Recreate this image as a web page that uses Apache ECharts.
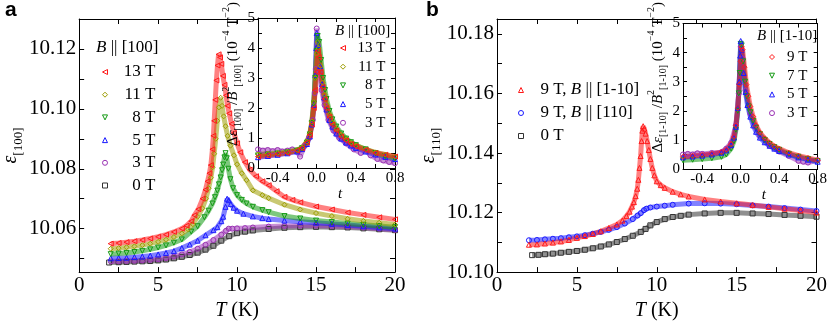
<!DOCTYPE html>
<html>
<head>
<meta charset="utf-8">
<script src="https://cdn.jsdelivr.net/npm/echarts@6/dist/echarts.min.js"></script>
<style>
  html, body { margin: 0; padding: 0; background: #fff; }
  #chart { width: 830px; height: 326px; }
</style>
</head>
<body>
<div id="chart"></div>
<script>
// ---- tick values / labels ----
const mainXTicks = [0, 2.5, 5, 7.5, 10, 12.5, 15, 17.5, 20]
const mainXLabels = [0, 5, 10, 15, 20]
const aYTicks = [10.05, 10.06, 10.07, 10.08, 10.09, 10.10, 10.11, 10.12, 10.13]
const aYLabels = [10.06, 10.08, 10.10, 10.12]
const bYTicks = [10.10, 10.11, 10.12, 10.13, 10.14, 10.15, 10.16, 10.17, 10.18]
const bYLabels = [10.10, 10.12, 10.14, 10.16, 10.18]
const insetXTicks = [-0.6, -0.4, -0.2, 0, 0.2, 0.4, 0.6, 0.8]
const insetXLabels = [-0.4, 0, 0.4, 0.8]
const insetYTicks = [0, 0.5, 1, 1.5, 2, 2.5, 3, 3.5, 4, 4.5, 5]
const insetYLabels = [0, 1, 2, 3, 4, 5]

// ---- panel a: eps[100] vs T ----
const a13T = [[2.0,10.0550],[2.5,10.0552],[3,10.0555],[3.5,10.0558],[4,10.0562],[4.5,10.0567],[5,10.0573],[5.5,10.0580],[6,10.0589],[6.5,10.0600],[6.8,10.0610],[7.1,10.0625],[7.3,10.0645],[7.55,10.0665],[7.82,10.0700],[8.0,10.0730],[8.13,10.0758],[8.25,10.0785],[8.34,10.0812],[8.44,10.0865],[8.5,10.0910],[8.55,10.0960],[8.62,10.1030],[8.69,10.1095],[8.76,10.1145],[8.83,10.1182],[8.92,10.1172],[9.0,10.1150],[9.1,10.1110],[9.2,10.1080],[9.3,10.1045],[9.4,10.1010],[9.5,10.0985],[9.65,10.0950],[9.8,10.0920],[10.0,10.0885],[10.2,10.0855],[10.5,10.0822],[10.8,10.0797],[11.2,10.0775],[11.6,10.0758],[12,10.0745],[12.5,10.0725],[13,10.0706],[13.5,10.0696],[14,10.0688],[15,10.0674],[16,10.0664],[17,10.0654],[18,10.0646],[19,10.0638],[20,10.0631]]
const a11T = [[2.0,10.0533],[2.5,10.0535],[3,10.0538],[3.5,10.0541],[4,10.0545],[4.5,10.0550],[5,10.0556],[5.5,10.0563],[6,10.0572],[6.5,10.0584],[6.9,10.0598],[7.2,10.0615],[7.5,10.0640],[7.8,10.0668],[8.03,10.0700],[8.2,10.0735],[8.34,10.0770],[8.45,10.0805],[8.55,10.0850],[8.65,10.0900],[8.75,10.0960],[8.85,10.1005],[8.96,10.1037],[9.05,10.1010],[9.15,10.0975],[9.27,10.0942],[9.4,10.0910],[9.58,10.0877],[9.8,10.0845],[10.0,10.0815],[10.3,10.0785],[10.6,10.0762],[11.0,10.0728],[11.6,10.0712],[12,10.0702],[13,10.0680],[14,10.0664],[15,10.0652],[16,10.0642],[17,10.0633],[18,10.0626],[19,10.0620],[20,10.0614]]
const a8T = [[2.0,10.0515],[2.5,10.0517],[3,10.0519],[3.5,10.0522],[4,10.0526],[4.5,10.0531],[5,10.0537],[5.5,10.0544],[6,10.0553],[6.5,10.0564],[7.1,10.0590],[7.5,10.0608],[7.93,10.0638],[8.2,10.0660],[8.44,10.0684],[8.6,10.0705],[8.75,10.0727],[8.85,10.0748],[8.96,10.0771],[9.05,10.0795],[9.12,10.0814],[9.2,10.0838],[9.27,10.0852],[9.35,10.0835],[9.45,10.0800],[9.58,10.0765],[9.75,10.0735],[10.0,10.0712],[10.3,10.0696],[10.6,10.0684],[11.0,10.0673],[11.6,10.0662],[12,10.0655],[13,10.0642],[14,10.0634],[15,10.0627],[16,10.0622],[17,10.0617],[18,10.0613],[19,10.0609],[20,10.0605]]
const a5T = [[2.0,10.0501],[2.5,10.0502],[3,10.0503],[3.5,10.0505],[4,10.0507],[4.5,10.0510],[5,10.0514],[5.5,10.0519],[6,10.0525],[6.5,10.0535],[7,10.0547],[7.5,10.0560],[8,10.0578],[8.5,10.0595],[8.75,10.0605],[9.0,10.0625],[9.12,10.0640],[9.27,10.0673],[9.37,10.0700],[9.47,10.0695],[9.6,10.0682],[9.78,10.0670],[10.0,10.0660],[10.4,10.0650],[11,10.0641],[11.6,10.0635],[12,10.0632],[13,10.0627],[14,10.0623],[15,10.0620],[16,10.0616],[17,10.0612],[18,10.0608],[19,10.0604],[20,10.0600]]
const a3T = [[2.0,10.0491],[2.5,10.0491],[3,10.0492],[3.5,10.0493],[4,10.0494],[4.5,10.0496],[5,10.0498],[5.5,10.0502],[6,10.0507],[6.5,10.0514],[7,10.0522],[7.5,10.0533],[8,10.0546],[8.5,10.0562],[9,10.0580],[9.3,10.0593],[9.47,10.0600],[9.7,10.0600],[10,10.0601],[10.5,10.0602],[11,10.0604],[12,10.0607],[13,10.0609],[14,10.0610],[15,10.0610],[16,10.0609],[17,10.0607],[18,10.0604],[19,10.0600],[20,10.0596]]
const a0T = [[1.9,10.0487],[2.5,10.0488],[3,10.0489],[3.5,10.0490],[4,10.0491],[4.5,10.0492],[5,10.0494],[5.5,10.0497],[6,10.0501],[6.5,10.0506],[7,10.0512],[7.5,10.0520],[8,10.0530],[8.5,10.0543],[9,10.0560],[9.5,10.0575],[10,10.0585],[10.5,10.0590],[11,10.0594],[12,10.0599],[13,10.0603],[14,10.0605],[15,10.0606],[16,10.0605],[17,10.0604],[18,10.0601],[19,10.0598],[20,10.0595]]

// inset a: d_eps/B^2 vs t
const ia13T = [[-0.6,0.38],[-0.5,0.42],[-0.4,0.46],[-0.3,0.5],[-0.2,0.58],[-0.15,0.66],[-0.1,0.85],[-0.07,1.1],[-0.05,1.45],[-0.03,2.0],[-0.015,2.6],[0,3.2],[0.01,3.9],[0.02,3.7],[0.04,3.2],[0.06,2.7],[0.08,2.3],[0.1,2.0],[0.13,1.7],[0.16,1.45],[0.2,1.25],[0.25,1.05],[0.3,0.92],[0.35,0.8],[0.4,0.72],[0.5,0.6],[0.6,0.5],[0.7,0.44],[0.8,0.38]]
const ia11T = [[-0.6,0.45],[-0.5,0.48],[-0.4,0.5],[-0.3,0.54],[-0.2,0.6],[-0.15,0.68],[-0.1,0.88],[-0.07,1.15],[-0.05,1.55],[-0.03,2.2],[-0.015,3.0],[0,3.8],[0.01,4.2],[0.02,4.0],[0.04,3.4],[0.06,2.85],[0.08,2.45],[0.1,2.12],[0.13,1.78],[0.16,1.52],[0.2,1.3],[0.25,1.1],[0.3,0.95],[0.35,0.84],[0.4,0.75],[0.5,0.62],[0.6,0.52],[0.7,0.45],[0.8,0.38]]
const ia8T = [[-0.6,0.42],[-0.5,0.45],[-0.4,0.48],[-0.3,0.52],[-0.2,0.58],[-0.15,0.66],[-0.1,0.85],[-0.07,1.12],[-0.05,1.5],[-0.03,2.15],[-0.015,3.0],[0,3.9],[0.01,4.4],[0.025,4.2],[0.045,3.6],[0.065,3.0],[0.085,2.6],[0.1,2.3],[0.13,1.9],[0.16,1.62],[0.2,1.38],[0.25,1.15],[0.3,0.98],[0.35,0.86],[0.4,0.76],[0.5,0.62],[0.6,0.5],[0.7,0.4],[0.8,0.32]]
const ia5T = [[-0.6,0.36],[-0.5,0.4],[-0.4,0.44],[-0.3,0.49],[-0.2,0.55],[-0.15,0.63],[-0.1,0.8],[-0.07,1.05],[-0.05,1.45],[-0.03,2.1],[-0.015,3.1],[-0.005,4.0],[0,4.5],[0.015,4.1],[0.035,3.4],[0.055,2.8],[0.075,2.35],[0.1,1.95],[0.13,1.6],[0.16,1.38],[0.2,1.15],[0.25,0.98],[0.3,0.85],[0.35,0.75],[0.4,0.67],[0.5,0.55],[0.6,0.45],[0.7,0.37],[0.8,0.3]]
const ia3T = [[-0.6,0.62],[-0.55,0.58],[-0.5,0.6],[-0.45,0.56],[-0.4,0.6],[-0.35,0.55],[-0.3,0.58],[-0.25,0.62],[-0.2,0.55],[-0.17,0.38],[-0.12,0.75],[-0.08,1.0],[-0.04,1.6],[-0.02,2.5],[-0.01,3.3],[0,4.65],[0.01,4.1],[0.03,3.2],[0.05,2.6],[0.08,2.1],[0.12,1.6],[0.17,1.25],[0.23,1.0],[0.3,0.82],[0.38,0.62],[0.45,0.5],[0.5,0.6],[0.55,0.42],[0.62,0.3],[0.68,0.25],[0.74,0.2],[0.8,0.16]]

// ---- panel b: eps[110] vs T ----
const bPerp9T = [[2.0,10.1092],[2.5,10.1093],[3,10.1096],[3.5,10.1099],[4,10.1103],[4.5,10.1108],[5,10.1115],[5.5,10.1121],[6,10.1128],[6.5,10.1137],[7,10.1148],[7.5,10.1160],[7.85,10.1173],[8.1,10.1188],[8.3,10.1203],[8.45,10.1220],[8.57,10.1235],[8.68,10.1255],[8.78,10.1280],[8.85,10.1310],[8.92,10.1350],[8.99,10.1390],[9.05,10.1440],[9.1,10.1475],[9.15,10.1490],[9.22,10.1482],[9.3,10.1465],[9.4,10.1440],[9.5,10.1410],[9.6,10.1380],[9.72,10.1350],[9.85,10.1325],[10.0,10.1305],[10.25,10.1292],[10.5,10.1283],[11,10.1270],[11.5,10.1261],[12,10.1254],[13,10.1244],[14,10.1237],[15,10.1231],[16,10.1225],[17,10.1219],[18,10.1213],[19,10.1207],[20,10.1200]]
const bPar9T = [[2.0,10.1107],[2.5,10.1108],[3,10.1110],[3.5,10.1112],[4,10.1114],[4.5,10.1117],[5,10.1120],[5.5,10.1124],[6,10.1129],[6.5,10.1135],[7,10.1142],[7.5,10.1151],[8,10.1163],[8.5,10.1178],[8.8,10.1190],[9.0,10.1198],[9.2,10.1208],[9.35,10.1213],[9.6,10.1217],[10,10.1220],[10.5,10.1223],[11,10.1226],[12,10.1230],[13,10.1231],[14,10.1230],[15,10.1228],[16,10.1224],[17,10.1220],[18,10.1215],[19,10.1210],[20,10.1205]]
const b0T = [[2.2,10.1057],[2.6,10.1058],[3,10.1060],[3.5,10.1062],[4,10.1065],[4.5,10.1068],[5,10.1071],[5.5,10.1075],[6,10.1080],[6.5,10.1086],[7,10.1093],[7.5,10.1101],[8,10.1111],[8.5,10.1122],[9,10.1135],[9.3,10.1145],[9.6,10.1157],[10,10.1168],[10.5,10.1178],[11,10.1185],[11.5,10.1189],[12,10.1193],[13,10.1197],[14,10.1199],[15,10.1199],[16,10.1197],[17,10.1195],[18,10.1192],[19,10.1189],[20,10.1186]]

// inset b
const ib9T = [[-0.6,0.42],[-0.5,0.45],[-0.4,0.48],[-0.3,0.52],[-0.2,0.58],[-0.15,0.66],[-0.1,0.85],[-0.07,1.1],[-0.05,1.5],[-0.03,2.1],[-0.015,2.9],[0,3.7],[0.01,4.2],[0.02,4.1],[0.04,3.5],[0.06,2.9],[0.08,2.5],[0.1,2.15],[0.13,1.8],[0.16,1.5],[0.2,1.25],[0.25,1.05],[0.3,0.9],[0.35,0.78],[0.4,0.7],[0.5,0.56],[0.6,0.46],[0.7,0.38],[0.8,0.3]]
const ib7T = [[-0.6,0.3],[-0.5,0.32],[-0.4,0.34],[-0.3,0.37],[-0.2,0.42],[-0.15,0.5],[-0.1,0.7],[-0.07,0.95],[-0.05,1.35],[-0.03,2.0],[-0.02,2.6],[-0.01,3.3],[0,4.3],[0.01,4.25],[0.025,3.7],[0.045,3.0],[0.065,2.5],[0.085,2.15],[0.1,1.95],[0.13,1.65],[0.16,1.42],[0.2,1.2],[0.25,1.0],[0.3,0.86],[0.35,0.75],[0.4,0.66],[0.5,0.52],[0.6,0.42],[0.7,0.34],[0.8,0.27]]
const ib5T = [[-0.6,0.4],[-0.5,0.43],[-0.4,0.46],[-0.3,0.5],[-0.2,0.56],[-0.15,0.64],[-0.1,0.82],[-0.07,1.08],[-0.05,1.45],[-0.03,2.1],[-0.015,3.0],[-0.005,3.9],[0,4.4],[0.01,4.1],[0.03,3.3],[0.05,2.65],[0.07,2.2],[0.1,1.8],[0.13,1.5],[0.16,1.28],[0.2,1.08],[0.25,0.92],[0.3,0.8],[0.35,0.7],[0.4,0.62],[0.5,0.5],[0.6,0.4],[0.7,0.32],[0.8,0.25]]
const ib3T = [[-0.6,0.5],[-0.55,0.52],[-0.5,0.5],[-0.45,0.54],[-0.4,0.52],[-0.3,0.55],[-0.2,0.58],[-0.15,0.7],[-0.1,0.9],[-0.05,1.5],[-0.02,2.6],[0,4.2],[0.02,3.8],[0.05,2.7],[0.1,1.9],[0.15,1.45],[0.2,1.15],[0.3,0.8],[0.4,0.6],[0.5,0.45],[0.6,0.28],[0.65,0.25],[0.7,0.22],[0.8,0.3]]

const SERIF = '"Liberation Serif", "Times New Roman", serif'
const RED = '#ff1a1a', OLIVE = '#9c9c00', GREEN = '#139a13', BLUE = '#1a1aff', PURPLE = '#9a32b4', BLACK = '#333333'
const LEFT_TRI = 'path://M0,5L10,0L10,10Z'
const DOWN_TRI = 'path://M0,0L10,0L5,10Z'
const UP_TRI = 'path://M5,0L10,10L0,10Z'

const near = (arr, v) => arr.some(a => Math.abs(a - v) < 1e-6)

// one value axis of a framed box (ticks inside on all four sides)
const boxAxis = (grid, pos, r, z) => ({
  type: 'value', gridIndex: grid, position: pos, min: r.min, max: r.max, z: z,
  axisLine: { show: true, onZero: false, lineStyle: { color: '#000', width: 1 } },
  axisTick: { show: true, inside: true, length: r.tick, customValues: r.ticks, lineStyle: { color: '#000', width: 1 } },
  axisLabel: {
    show: pos === 'bottom' || pos === 'left', customValues: r.labels,
    formatter: v => near(r.labels, v) ? r.fmt(v) : '',
    color: '#000', fontFamily: SERIF, fontSize: r.size, margin: r.margin
  },
  splitLine: { show: false }
})

const rich = {
  n: { fontFamily: SERIF, fontSize: 20, color: '#000' },
  i: { fontFamily: SERIF, fontSize: 20, fontStyle: 'italic', color: '#000', lineHeight: 28 },
  s: { fontFamily: SERIF, fontSize: 13, color: '#000', verticalAlign: 'bottom', lineHeight: 13 },
  sn: { fontFamily: SERIF, fontSize: 15, color: '#000', lineHeight: 22 },
  si: { fontFamily: SERIF, fontSize: 15, fontStyle: 'italic', color: '#000', lineHeight: 22 },
  ss: { fontFamily: SERIF, fontSize: 10, color: '#000', verticalAlign: 'bottom', lineHeight: 10 },
  sp: { fontFamily: SERIF, fontSize: 10, color: '#000', verticalAlign: 'top', lineHeight: 10 }
}

const xMain = { min: 0, max: 20, ticks: mainXTicks, labels: mainXLabels, fmt: v => String(v), size: 21, margin: 3, tick: 5 }
const yA = { min: 10.0455, max: 10.13, ticks: aYTicks, labels: aYLabels, fmt: v => v.toFixed(2), size: 21, margin: 3, tick: 5 }
const yB = { min: 10.10, max: 10.185, ticks: bYTicks, labels: bYLabels, fmt: v => v.toFixed(2), size: 21, margin: 3, tick: 5 }
const xIn = { min: -0.6, max: 0.8, ticks: insetXTicks, labels: insetXLabels, fmt: v => v.toFixed(1), size: 15, margin: 3, tick: 4 }
const yIn = { min: 0, max: 5, ticks: insetYTicks, labels: insetYLabels, fmt: v => String(v), size: 15, margin: 3, tick: 4 }

// axes: grid g uses x/y axis 2g (bottom/left, labelled) and 2g+1 (top/right, ticks only)
const xAxes = [], yAxes = []
const addBox = (grid, rx, ry, z) => {
  xAxes.push(boxAxis(grid, 'bottom', rx, z), boxAxis(grid, 'top', rx, z))
  yAxes.push(boxAxis(grid, 'left', ry, z), boxAxis(grid, 'right', ry, z))
}
addBox(0, xMain, yA, 0)
addBox(1, xIn, yIn, 11)
addBox(2, xMain, yB, 0)
addBox(3, xIn, yIn, 11)

// axis names
const tName = { name: '{i|T}{n| (K)}', nameLocation: 'middle', nameGap: 24, nameTextStyle: { rich } }
Object.assign(xAxes[0], tName)
Object.assign(xAxes[4], tName)
Object.assign(yAxes[0], { name: '{i|ε}{s|[100]}', nameLocation: 'middle', nameRotate: 90, nameGap: 46, nameTextStyle: { rich } })
Object.assign(yAxes[4], { name: '{i|ε}{s|[110]}', nameLocation: 'middle', nameRotate: 90, nameGap: 46, nameTextStyle: { rich } })
const inTName = { name: '{si|t}', nameLocation: 'middle', nameGap: 14, nameTextStyle: { rich, padding: [0, 0, 0, 27] } }
Object.assign(xAxes[2], inTName)
Object.assign(xAxes[6], inTName)
const inY = sub => ({
  name: '{sn|Δ}{si|ε}{ss|[' + sub + ']}{sn| /}{si|B}{sp|2}{ss|[' + sub + ']}{sn| (10}{sp|−4}{sn| T}{sp|−2}{sn|)}',
  nameLocation: 'middle', nameRotate: 90, nameGap: 11, nameTextStyle: { rich, padding: [0, 0, 0, 38] }
})
Object.assign(yAxes[2], inY('100'))
Object.assign(yAxes[6], inY('1-10'))

const curve = (name, data, grid, symbol, color, z) => ({
  name, type: 'line', xAxisIndex: 2 * grid, yAxisIndex: 2 * grid, data, z,
  symbol, symbolSize: 5, showSymbol: true, showAllSymbol: true, silent: true,
  lineStyle: { color, width: 5, opacity: 0.55 },
  itemStyle: { color: 'rgba(255,255,255,0)', borderColor: color, borderWidth: 1 }
})

const series = [
  curve('0 T', a0T, 0, 'rect', BLACK, 2),
  curve('3 T', a3T, 0, 'circle', PURPLE, 2),
  curve('5 T', a5T, 0, UP_TRI, BLUE, 2),
  curve('8 T', a8T, 0, DOWN_TRI, GREEN, 2),
  curve('11 T', a11T, 0, 'diamond', OLIVE, 2),
  curve('13 T', a13T, 0, LEFT_TRI, RED, 2),
  curve('3 T', ia3T, 1, 'circle', PURPLE, 12),
  curve('5 T', ia5T, 1, UP_TRI, BLUE, 12),
  curve('8 T', ia8T, 1, DOWN_TRI, GREEN, 12),
  curve('11 T', ia11T, 1, 'diamond', OLIVE, 12),
  curve('13 T', ia13T, 1, LEFT_TRI, RED, 12),
  curve('0 T', b0T, 2, 'rect', BLACK, 2),
  curve('9 T, B || [110]', bPar9T, 2, 'circle', BLUE, 2),
  curve('9 T, B || [1-10]', bPerp9T, 2, UP_TRI, RED, 2),
  curve('3 T', ib3T, 3, 'circle', PURPLE, 12),
  curve('7 T', ib7T, 3, DOWN_TRI, GREEN, 12),
  curve('5 T', ib5T, 3, UP_TRI, BLUE, 12),
  curve('9 T', ib9T, 3, 'diamond', RED, 12)
]

const item = (name, icon, color) => ({ name, icon, itemStyle: { color: 'rgba(255,255,255,0)', borderColor: color, borderWidth: 1 } })
const legendBase = { orient: 'vertical', selectedMode: false, z: 20, padding: 0, itemWidth: 5, itemHeight: 5 }

const legends = [
  Object.assign({}, legendBase, {
    left: 102, top: 63.5, itemGap: 5.7,
    data: [item('13 T', LEFT_TRI, RED), item('11 T', 'diamond', OLIVE), item('8 T', DOWN_TRI, GREEN),
      item('5 T', UP_TRI, BLUE), item('3 T', 'circle', PURPLE), item('0 T', 'rect', BLACK)],
    formatter: n => '{r|' + n + '}',
    textStyle: { rich: { r: { fontFamily: SERIF, fontSize: 17, lineHeight: 17, width: 43, align: 'right', color: '#000' } } }
  }),
  Object.assign({}, legendBase, {
    left: 340, top: 40.5, itemGap: 3.7,
    data: [item('13 T', LEFT_TRI, RED), item('11 T', 'diamond', OLIVE), item('8 T', DOWN_TRI, GREEN),
      item('5 T', UP_TRI, BLUE), item('3 T', 'circle', PURPLE)],
    formatter: n => '{r|' + n + '}',
    textStyle: { rich: { r: { fontFamily: SERIF, fontSize: 15, lineHeight: 15, width: 35, align: 'right', color: '#000' } } }
  }),
  Object.assign({}, legendBase, {
    left: 518, top: 81.5, itemGap: 6,
    data: [item('9 T, B || [1-10]', UP_TRI, RED), item('9 T, B || [110]', 'circle', BLUE), item('0 T', 'rect', BLACK)],
    formatter: n => {
      const k = n.indexOf('B')
      if (k < 0) return '{f|' + n + '}'
      return '{f|' + n.slice(0, k) + '}{i|B}{r|' + n.slice(k + 1) + '}'
    },
    textStyle: { rich: {
      f: { fontFamily: SERIF, fontSize: 17, lineHeight: 17, color: '#000', padding: [0, 0, 0, 12] },
      r: { fontFamily: SERIF, fontSize: 17, lineHeight: 17, color: '#000' },
      i: { fontFamily: SERIF, fontSize: 17, lineHeight: 17, color: '#000', fontStyle: 'italic' }
    } }
  }),
  Object.assign({}, legendBase, {
    left: 769, top: 49.5, itemGap: 3.7,
    data: [item('9 T', 'diamond', RED), item('7 T', DOWN_TRI, GREEN), item('5 T', UP_TRI, BLUE), item('3 T', 'circle', PURPLE)],
    formatter: n => '{r|' + n + '}',
    textStyle: { rich: { r: { fontFamily: SERIF, fontSize: 15, lineHeight: 15, width: 28, align: 'right', color: '#000' } } }
  })
]

const titleRich = size => ({
  n: { fontFamily: SERIF, fontSize: size, fontWeight: 'normal', color: '#000' },
  i: { fontFamily: SERIF, fontSize: size, fontWeight: 'normal', fontStyle: 'italic', color: '#000' }
})
const panelFont = { fontFamily: '"Liberation Sans", Arial, sans-serif', fontWeight: 'bold', fontSize: 21, color: '#000' }
const titles = [
  { text: 'a', left: 5, top: 0, padding: 0, z: 20, textStyle: panelFont },
  { text: 'b', left: 426, top: 0, padding: 0, z: 20, textStyle: panelFont },
  { text: '{i|B}{n| || [100]}', left: 96, top: 39, padding: 0, z: 20, textStyle: { fontWeight: 'normal', rich: titleRich(17) } },
  { text: '{i|B}{n| || [100]}', left: 335, top: 24, padding: 0, z: 20, textStyle: { fontWeight: 'normal', rich: titleRich(15) } },
  { text: '{i|B}{n| || [1-10]}', left: 757, top: 29, padding: 0, z: 20, textStyle: { fontWeight: 'normal', rich: titleRich(15) } }
]

const chart = echarts.init(document.getElementById('chart'), null, { renderer: 'canvas' })
chart.setOption({
  animation: false,
  backgroundColor: '#fff',
  title: titles,
  legend: legends,
  grid: [
    { left: 72, top: 19, width: 323, height: 258 },
    { left: 258, top: 18, width: 137, height: 150, show: true, backgroundColor: '#fff', borderWidth: 0, z: 10 },
    { left: 497, top: 19, width: 322, height: 258 },
    { left: 683, top: 18, width: 136, height: 151, show: true, backgroundColor: '#fff', borderWidth: 0, z: 10 }
  ],
  xAxis: xAxes,
  yAxis: yAxes,
  series
})
</script>
</body>
</html>
